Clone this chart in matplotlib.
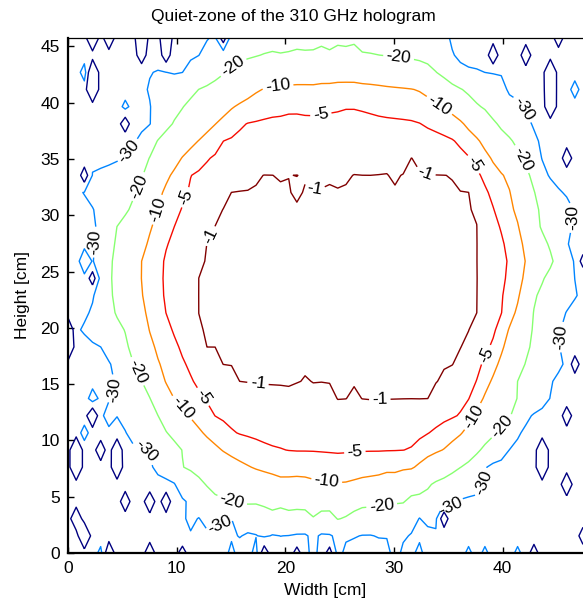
import numpy as np
import matplotlib
matplotlib.use("Agg")
import matplotlib.pyplot as plt
from matplotlib.colors import Normalize

plt.rcParams['font.family'] = ['Liberation Sans', 'DejaVu Sans']
plt.rcParams['contour.negative_linestyle'] = 'solid'

# ---------------- data ----------------
title = "Quiet-zone of the 310 GHz hologram"
x_label = "Width [cm]"
y_label = "Height [cm]"
levels = [-40, -30, -20, -10, -5, -1]
x_ticks = [0, 10, 20, 30, 40]
y_ticks = [0, 5, 10, 15, 20, 25, 30, 35, 40, 45]
x_extent = 47.4
y_extent = 45.75

# beam centre (cm)
centre_x = 25.0
centre_y = 23.8

# traced contour points (cm) for each level
c1_x = [37.9, 37.9, 37.9, 37.0, 35.8, 34.2, 33.1, 31.5, 30.3, 29.4, 28.4, 27.5, 26.2, 25.0, 24.7, 23.5, 23.0, 22.4,
        21.8, 21.1, 20.0, 17.9, 16.7, 16.1, 15.4, 14.3, 13.3, 12.3, 12.0, 12.0, 12.1, 12.6, 13.5, 14.2, 15.2, 16.3,
        18.1, 19.5, 20.9, 21.8, 22.9, 23.6, 24.3, 25.0, 26.2, 27.8, 29.9, 31.5, 32.7, 33.5, 34.2, 34.5, 35.3, 36.1,
        37.2, 37.6]
c1_y = [22.5, 26.0, 28.7, 32.3, 33.4, 33.8, 34.3, 35.4, 34.7, 32.4, 33.8, 33.4, 34.0, 32.5, 33.4, 33.2, 32.7, 30.8,
        33.3, 33.9, 33.3, 33.8, 32.8, 33.2, 32.5, 31.4, 29.0, 26.7, 24.3, 21.6, 19.6, 18.3, 18.3, 16.3, 16.3, 14.5,
        14.2, 14.2, 14.0, 15.6, 14.3, 15.4, 14.2, 12.9, 14.2, 13.0, 13.3, 13.6, 13.3, 13.9, 14.2, 15.4, 15.6, 17.3,
        19.6, 20.7]

c5_x = [40.0, 40.5, 39.5, 38.8, 37.9, 36.3, 34.9, 33.0, 32.1, 30.3, 29.0, 27.5, 25.9, 24.4, 23.2, 22.3, 20.7, 19.2,
        17.4, 15.8, 14.6, 13.1, 12.1, 11.4, 10.8, 9.7, 8.7, 8.7, 9.1, 10.3, 11.4, 12.3, 14.0, 16.5, 18.3, 19.8, 20.7,
        22.0, 23.5, 25.0, 26.4, 27.8, 29.6, 31.5, 32.4, 32.7, 33.3, 34.9, 36.3, 37.9, 38.8, 40.0]
c5_y = [22.5, 26.3, 29.6, 31.6, 33.8, 36.1, 37.3, 37.9, 38.5, 38.9, 39.1, 39.4, 39.6, 39.4, 39.3, 39.2, 39.4, 39.2,
        38.8, 37.9, 36.9, 35.2, 34.2, 33.8, 31.6, 28.7, 26.3, 22.5, 21.0, 18.0, 15.4, 13.8, 11.6, 10.0, 9.4, 9.2, 8.9,
        8.9, 8.7, 8.6, 8.8, 8.9, 9.0, 9.2, 9.6, 10.0, 10.7, 11.6, 12.4, 16.3, 18.0, 21.6]

c10_x = [41.3, 42.1, 41.6, 40.9, 40.4, 39.5, 37.9, 36.7, 35.8, 34.2, 33.0, 31.5, 29.6, 27.8, 26.2, 24.7, 23.5, 22.3,
         20.7, 19.2, 17.7, 16.7, 15.2, 13.7, 12.1, 11.2, 10.3, 8.7, 8.2, 7.3, 6.8, 6.9, 7.5, 8.5, 9.1, 10.5, 12.1,
         13.1, 14.3, 16.5, 17.9, 19.8, 21.3, 23.5, 25.3, 27.1, 29.0, 29.6, 30.3, 30.8, 31.5, 32.4, 33.1, 35.8, 37.9,
         38.8, 40.4]
c10_y = [21.6, 26.3, 28.7, 31.1, 33.4, 34.0, 36.7, 37.9, 38.9, 39.8, 40.9, 41.3, 41.6, 41.9, 42.0, 42.0, 41.9, 41.8,
         41.8, 41.6, 41.2, 40.5, 39.6, 38.2, 36.7, 36.1, 34.9, 32.5, 30.5, 27.6, 26.3, 22.5, 19.6, 16.5, 14.5, 12.9,
         10.9, 10.0, 9.0, 7.8, 7.1, 6.5, 6.7, 6.3, 6.2, 6.5, 6.8, 7.2, 6.9, 7.4, 7.2, 8.0, 8.4, 10.0, 13.3, 15.1,
         19.6]

c20_x = [42.8, 44.1, 44.8, 44.6, 43.4, 43.1, 42.5, 40.9, 39.7, 39.1, 37.9, 36.3, 34.9, 33.3, 32.1, 30.4, 28.1, 27.0,
         26.1, 25.6, 25.0, 24.4, 23.2, 22.3, 21.3, 19.8, 18.6, 16.9, 15.2, 13.7, 11.5, 10.0, 9.1, 8.2, 7.3, 6.6, 5.4,
         4.5, 4.0, 4.1, 5.1, 5.4, 6.3, 7.3, 8.2, 9.1, 10.0, 10.3, 10.9, 11.5, 12.8, 13.7, 15.0, 16.1, 17.7, 18.9,
         19.5, 20.7, 21.6, 22.5, 23.8, 25.0, 25.9, 27.0, 28.5, 29.9, 31.2, 32.1, 32.6, 33.3, 34.9, 37.3, 38.8, 40.0,
         41.3, 41.3, 42.2]
c20_y = [22.5, 25.2, 26.0, 26.9, 28.4, 31.4, 33.8, 36.7, 37.6, 38.8, 39.6, 41.2, 42.0, 43.1, 43.6, 43.9, 44.3, 44.4,
         45.4, 44.9, 45.3, 44.4, 45.0, 44.4, 44.7, 44.3, 44.5, 43.9, 43.2, 42.0, 40.9, 38.5, 37.7, 36.7, 34.7, 32.5,
         29.6, 29.0, 26.3, 21.6, 20.4, 18.9, 16.1, 14.5, 12.4, 10.7, 10.0, 7.8, 8.5, 7.1, 5.9, 5.0, 4.6, 4.4, 4.3,
         3.6, 4.0, 3.6, 3.8, 3.1, 3.8, 2.8, 3.4, 4.0, 4.2, 4.4, 4.5, 5.9, 4.7, 6.2, 6.8, 8.5, 9.8, 11.2, 12.7, 15.1,
         17.2]

c30_x = [46.8, 45.9, 46.5, 44.1, 43.5, 42.8, 42.0, 41.2, 40.6, 39.7, 37.9, 36.1, 35.3, 34.5, 30.0, 25.0, 20.0, 14.0,
         13.7, 12.2, 11.9, 10.9, 10.3, 9.1, 7.8, 7.3, 8.0, 6.9, 5.6, 4.8, 2.9, 2.3, 1.1, 2.0, 2.9, 2.7, 2.5, 2.7, 2.0,
         1.1, 2.7, 3.9, 4.5, 4.3, 4.5, 5.4, 5.5, 6.6, 7.8, 8.0, 9.7, 10.3, 11.2, 10.6, 11.5, 12.4, 14.0, 15.2, 15.8,
         16.6, 17.9, 19.2, 19.8, 20.7, 22.0, 22.5, 23.6, 25.0, 26.2, 27.5, 28.7, 29.6, 30.3, 31.2, 32.4, 33.5, 35.0,
         36.7, 37.9, 38.5, 40.4, 42.2, 44.3, 44.6, 45.5, 45.0, 45.9]
c30_y = [22.8, 27.6, 31.1, 32.9, 35.0, 37.5, 39.0, 40.5, 42.0, 40.5, 42.8, 42.9, 44.5, 47.5, 48.5, 48.5, 48.5, 48.0,
         46.5, 44.5, 43.8, 43.2, 42.3, 42.7, 42.9, 41.2, 38.5, 37.0, 35.6, 34.3, 34.7, 33.8, 32.5, 31.1, 29.9, 27.6,
         25.8, 23.1, 21.0, 19.6, 18.7, 17.3, 16.0, 14.5, 12.0, 11.5, 9.5, 9.5, 8.9, 7.1, 6.7, 5.4, 4.5, 2.3, 1.9, 3.4,
         2.8, 3.1, 1.2, 2.5, 1.2, 2.0, 1.2, 1.9, 2.0, 1.2, 2.3, 1.2, 1.4, 1.8, 1.4, 1.4, 0.7, 1.4, 3.4, 2.0, 4.0, 5.6,
         5.0, 8.3, 8.9, 12.1, 13.6, 16.5, 16.3, 19.2, 21.9]

# background level of the noise floor and isolated noise excursions (cm, dB)
floor_level = -35.0
island_x = [1.9, 3.9, 6.8, 6.8, 9.0, 9.2, 14.5, 2.4, 2.4, 5.2, 1.4, 2.3, 0.0, 0.0, 2.0, 1.0, 1.0, 3.2, 4.5, 4.5,
            5.2, 7.6, 9.1, 1.3, 0.5, 4.0, 7.7, 10.8, 17.8, 21.0, 24.2, 34.7, 43.9, 43.9, 46.2, 46.2, 46.6, 47.4,
            43.0, 38.8, 42.3, 44.6, 44.6, 44.6, 46.2, 47.4, 45.0,
            1.3, 4.5, 1.3, 2.0, 3.4, 1.2, 46.3, 5.5, 21.2,
            14.7, 17.5, 22.5, 25.0, 29.9, 32.2, 36.6, 38.5, 3.0, 41.5]
island_y = [45.75, 45.75, 45.75, 44.2, 45.75, 44.2, 45.75, 42.7, 41.2, 38.1, 33.5, 24.4, 18.3, 19.8, 12.2, 9.2, 7.6,
            9.2, 9.2, 7.6, 4.6, 4.6, 4.6, 1.5, 3.0, 0.0, 0.0, 0.0, 0.0, 0.0, 0.0, 3.0, 9.2, 7.6, 12.2, 6.1, 16.8,
            1.5, 0.0, 44.2, 44.2, 42.7, 39.6, 41.2, 35.1, 26.0, 45.75,
            42.7, 32.0, 25.9, 13.7, 12.2, 10.7, 41.2, 39.6, 32.0,
            0.0, 0.0, 0.0, 0.0, 0.0, 0.0, 0.0, 0.0, 0.0, 0.0]
island_v = [-55, -50, -58, -48, -55, -47, -46, -55, -55, -48, -47, -46, -58, -55, -52, -56, -56, -48, -55, -52,
            -47, -50, -50, -56, -50, -50, -48, -45, -48, -45, -45, -48, -56, -55, -48, -50, -47, -45,
            -45, -50, -48, -56, -55, -56, -48, -45, -46,
            -25, -26, -25, -25, -25, -26, -25, -27, -1.4,
            -27, -27, -27, -27, -27, -27, -27, -27, -27, -27]

# clabel positions (cm)
lab1 = [(12.8, 28.3), (22.7, 32.0), (33.1, 34.3), (17.4, 14.2), (28.7, 13.6)]
lab5 = [(10.8, 31.6), (23.2, 39.4), (37.3, 34.5), (38.5, 17.6), (12.3, 13.8), (26.4, 9.0)]
lab10 = [(8.2, 30.5), (19.3, 41.6), (34.2, 39.8), (37.3, 12.1), (23.8, 6.3), (10.5, 12.9)]
lab20 = [(6.6, 32.5), (14.9, 43.6), (30.4, 43.8), (42.2, 35.2), (40.0, 11.2), (28.9, 4.0), (15.1, 4.7), (6.3, 16.1)]
lab30 = [(5.7, 35.6), (2.7, 27.6), (4.3, 14.5), (7.7, 9.4), (14.0, 2.5), (35.1, 3.8), (40.4, 5.9), (45.0, 19.2),
         (45.5, 29.9), (40.8, 38.8)]
label_positions = {-1: lab1, -5: lab5, -10: lab10, -20: lab20, -30: lab30, -40: []}

# ---------------- build the field from the traced contours ----------------
gx = np.linspace(0, x_extent, 64)
gy = np.linspace(0, y_extent, 31)
GX, GY = np.meshgrid(gx, gy)


def polar_table(px, py):
    px = np.asarray(px, float); py = np.asarray(py, float)
    ang = np.arctan2(py - centre_y, px - centre_x)
    rad = np.hypot(px - centre_x, py - centre_y)
    o = np.argsort(ang)
    a, r = ang[o], rad[o]
    return np.concatenate([a - 2 * np.pi, a, a + 2 * np.pi]), np.tile(r, 3)


tables = [polar_table(c1_x, c1_y), polar_table(c5_x, c5_y), polar_table(c10_x, c10_y),
          polar_table(c20_x, c20_y), polar_table(c30_x, c30_y)]
vals = np.array([0.0, -1, -5, -10, -20, -30, floor_level])

TH = np.arctan2(GY - centre_y, GX - centre_x)
RR = np.hypot(GX - centre_x, GY - centre_y)
Z = np.empty_like(GX)
for i in range(GX.shape[0]):
    for j in range(GX.shape[1]):
        radii = [0.0] + [np.interp(TH[i, j], a, r) for a, r in tables]
        radii.append(radii[-1] + 3.0)
        radii = np.array(radii)
        for k in range(1, len(radii)):
            radii[k] = max(radii[k], radii[k - 1] + 0.05)
        Z[i, j] = np.interp(RR[i, j], radii, vals)

for xi, yi, vi in zip(island_x, island_y, island_v):
    j = int(np.argmin(np.abs(gx - xi)))
    i = int(np.argmin(np.abs(gy - yi)))
    Z[i, j] = vi

# ---------------- draw ----------------
fig = plt.figure(figsize=(5.83, 6.10), dpi=100)
ax = fig.add_axes([68 / 583, 57 / 610, 515 / 583, 515 / 610])

cmap = plt.get_cmap('jet')
norm = Normalize(vmin=-40, vmax=-1)
for lev in levels:
    cs = ax.contour(GX, GY, Z, levels=[lev], colors=[cmap(norm(lev))], linewidths=1.0,
                    linestyles='solid')
    pos = label_positions[lev]
    if pos:
        ax.clabel(cs, manual=pos, inline=True, fmt='%d', fontsize=12.5, colors='black', inline_spacing=3)

ax.set_xlim(0, x_extent)
ax.set_ylim(0, y_extent)
ax.set_xticks(x_ticks)
ax.set_yticks(y_ticks)
ax.tick_params(direction='in', length=4, width=1, labelsize=12.5, top=True, right=False, pad=6)
for s in ['left', 'bottom']:
    ax.spines[s].set_linewidth(1.6)
ax.spines['top'].set_linewidth(0.9)
ax.spines['right'].set_visible(False)

fig.text(293 / 583, 1 - 16 / 610, title, fontsize=12.5, ha='center', va='center')
ax.set_xlabel(x_label, fontsize=12.5, labelpad=5)
ax.set_ylabel(y_label, fontsize=12.5, labelpad=7)

fig.savefig("out.png", dpi=100)
